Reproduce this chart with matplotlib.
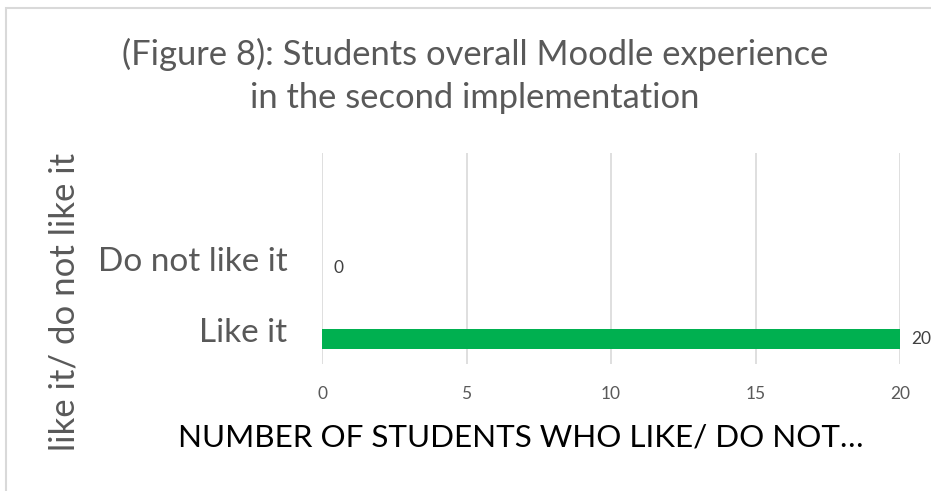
import matplotlib.pyplot as plt
import matplotlib.transforms as mtransforms
from matplotlib.patches import Rectangle

categories = ['Like it', 'Do not like it']
values = [20, 0]
x_ticks = [0, 5, 10, 15, 20]

title = '(Figure 8): Students overall Moodle experience\nin the second implementation'
x_label = 'NUMBER OF STUDENTS WHO LIKE/ DO NOT\u2026'
y_label = 'like it/ do not like it'

plt.rcParams['font.family'] = ['Lato', 'DejaVu Sans']

fig = plt.figure(figsize=(9.31, 4.91), dpi=100)
W, H = 931, 491
# plot area in pixels: left 322, right 900, top 153, bottom 364
ax = fig.add_axes([322 / W, 1 - 364 / H, (900 - 322) / W, (364 - 153) / H])

pos = list(range(len(categories)))
ax.barh(pos, values, height=0.27, color='#00B050', zorder=3)

ax.set_xlim(0, 20)
ax.set_ylim(-0.352, 2.62)
ax.set_xticks(x_ticks)
ax.set_xticklabels([str(t) for t in x_ticks], fontsize=12.5, color='#595959')
ax.set_yticks(pos)
ax.set_yticklabels(categories, fontsize=24, color='#595959')
ax.tick_params(axis='both', length=0)
ax.tick_params(axis='x', pad=16)
ax.tick_params(axis='y', pad=25)
shift = mtransforms.ScaledTranslation(0, 9 / 100, fig.dpi_scale_trans)
for lbl in ax.get_yticklabels():
    lbl.set_transform(lbl.get_transform() + shift)

ax.grid(axis='x', color='#D9D9D9', linewidth=1.2, zorder=0)
for s in ax.spines.values():
    s.set_visible(False)

# data labels
for p, v in zip(pos, values):
    ax.annotate(str(v), (v, p), xytext=(8, 0), textcoords='offset points',
                va='center', ha='left', fontsize=12.5, color='#404040',
                annotation_clip=False)

fig.text(65 / W, 1 - 302 / H, y_label, rotation=90, fontsize=25,
         color='#595959', ha='center', va='center')
fig.text(521 / W, 1 - 438 / H, x_label, fontsize=22.6, color='black',
         ha='center', va='center')
fig.text(475 / W, 1 - 76 / H, title, fontsize=24.8, color='#595959',
         ha='center', va='center', linespacing=1.45)

fig.patches.append(Rectangle((6 / W, -0.1), 1.2, 1 - 8 / H + 0.1,
                             transform=fig.transFigure, fill=False,
                             edgecolor='#D9D9D9', linewidth=1.5))

fig.savefig('out.png', dpi=100)
